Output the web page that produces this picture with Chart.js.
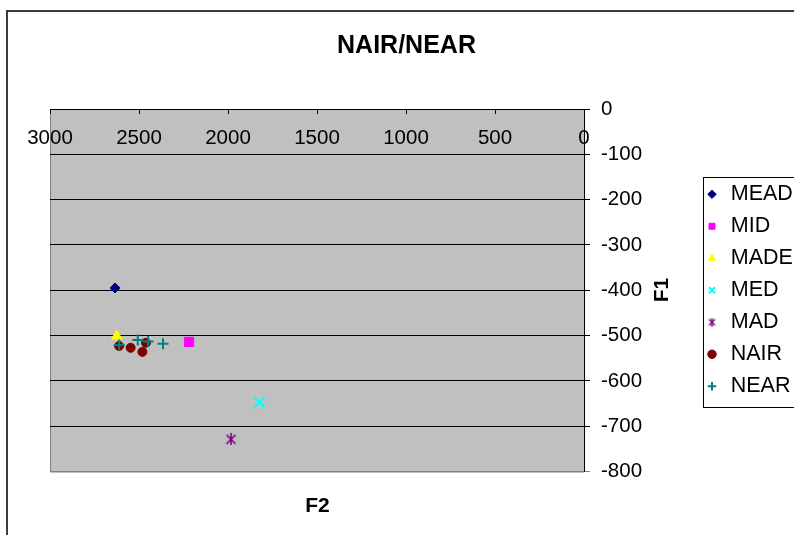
<!DOCTYPE html>
<html><head><meta charset="utf-8">
<script src="https://cdn.jsdelivr.net/npm/chart.js@4.4.1/dist/chart.umd.min.js"></script>
<style>html,body{margin:0;padding:0;background:#fff;overflow:hidden}canvas{display:block}</style>
</head><body>
<canvas id="c" width="794" height="535"></canvas>
<script>
// ---- text ----
const chartTitle = 'NAIR/NEAR';
const xTitle = 'F2';
const yTitle = 'F1';
const seriesNames = ['MEAD', 'MID', 'MADE', 'MED', 'MAD', 'NAIR', 'NEAR'];

// ---- data (F2 on x, F1 on y) ----
const meadF2 = [2635];  const meadF1 = [-395];
const midF2  = [2219];  const midF1  = [-514];
const madeF2 = [2625];  const madeF1 = [-501];
const medF2  = [1824];  const medF1  = [-647];
const madF2  = [1983];  const madF1  = [-729];
const nairF2 = [2612, 2547, 2481, 2461];  const nairF1 = [-523, -527, -536, -516];
const nearF2 = [2611, 2507, 2449, 2365];  const nearF1 = [-521, -510, -513, -518];

// ---- tick labels ----
const xTickValues = [3000, 2500, 2000, 1500, 1000, 500, 0];
const yTickValues = [0, -100, -200, -300, -400, -500, -600, -700, -800];

const seriesF2 = [meadF2, midF2, madeF2, medF2, madF2, nairF2, nearF2];
const seriesF1 = [meadF1, midF1, madeF1, medF1, madF1, nairF1, nearF1];

// ---- styles ----
const FONT = "'Liberation Sans', Arial, Helvetica, sans-serif";
function starImage(size, color, lw) {
  const c = document.createElement('canvas');
  c.width = size; c.height = size;
  const g = c.getContext('2d');
  g.strokeStyle = color; g.lineWidth = lw;
  const m = 1, e = size - 1, h = size / 2;
  g.beginPath();
  g.moveTo(m + 0.5, m + 0.5); g.lineTo(e - 0.5, e - 0.5);
  g.moveTo(e - 0.5, m + 0.5); g.lineTo(m + 0.5, e - 0.5);
  g.moveTo(h, 0); g.lineTo(h, size);
  g.stroke();
  return c;
}
const madStar = starImage(12, '#800080', 1.6);
const madStarSmall = starImage(9, '#800080', 1.4);

const styles = [
  { color: '#000080', pointStyle: 'rectRot', radius: 5, bw: 1 },
  { color: '#FF00FF', pointStyle: 'rect', radius: 6.5, bw: 1 },
  { color: '#FFFF00', pointStyle: 'triangle', radius: 6, bw: 1 },
  { color: '#00FFFF', pointStyle: 'crossRot', radius: 7.5, bw: 2 },
  { color: '#800080', pointStyle: madStar, radius: 6, bw: 1 },
  { color: '#800000', pointStyle: 'circle', radius: 4.5, bw: 1 },
  { color: '#008080', pointStyle: 'cross', radius: 5.5, bw: 2 }
];

const datasets = seriesNames.map((name, i) => ({
  label: name,
  data: seriesF2[i].map((x, k) => ({ x: x, y: seriesF1[i][k] })),
  backgroundColor: styles[i].color,
  borderColor: styles[i].color,
  pointBackgroundColor: styles[i].color,
  pointBorderColor: styles[i].color,
  pointStyle: styles[i].pointStyle,
  pointRadius: styles[i].radius,
  pointBorderWidth: styles[i].bw,
  borderWidth: styles[i].bw,
  showLine: false,
  order: -i
}));

const decor = {
  id: 'decor',
  beforeDraw(chart) {
    const { ctx, chartArea: a } = chart;
    ctx.save();
    ctx.fillStyle = '#C0C0C0';
    ctx.fillRect(a.left, a.top, a.right - a.left, a.bottom - a.top);
    ctx.strokeStyle = '#808080';
    ctx.lineWidth = 1;
    ctx.beginPath();
    ctx.moveTo(Math.round(a.left) + 0.5, a.top);
    ctx.lineTo(Math.round(a.left) + 0.5, a.bottom + 0.5);
    ctx.lineTo(a.right, a.bottom + 0.5);
    ctx.stroke();
    ctx.restore();
  },
  afterDraw(chart) {
    const { ctx } = chart;
    ctx.save();
    ctx.fillStyle = '#000';
    // chart title
    ctx.font = 'bold 25px ' + FONT;
    ctx.textAlign = 'center';
    ctx.textBaseline = 'alphabetic';
    ctx.fillText(chartTitle, 406.5, 52.5);
    // x title
    ctx.font = 'bold 21px ' + FONT;
    ctx.fillText(xTitle, 317.5, 512);
    // y title, rotated
    ctx.save();
    ctx.translate(668, 290);
    ctx.rotate(-Math.PI / 2);
    ctx.fillText(yTitle, 0, 0);
    ctx.restore();
    // legend frame
    const hb = chart.legend.legendHitBoxes;
    if (hb && hb.length) {
      const top = Math.round(hb[0].top - 6.5) + 0.5;
      const last = hb[hb.length - 1];
      const bot = Math.round(last.top + last.height + 10) + 0.5;
      const left = Math.round(hb[0].left - 1) + 0.5;
      ctx.strokeStyle = '#000';
      ctx.lineWidth = 1;
      ctx.strokeRect(left, top, 300, bot - top);
    }
    // outer chart border
    ctx.strokeStyle = '#3c3c3c';
    ctx.lineWidth = 2;
    ctx.strokeRect(7, 11, 1000, 1000);
    ctx.restore();
  }
};

new Chart(document.getElementById('c'), {
  type: 'scatter',
  data: { datasets: datasets },
  plugins: [decor],
  options: {
    responsive: false,
    devicePixelRatio: 1,
    animation: false,
    events: [],
    layout: { padding: { left: 50, top: 109, right: 0, bottom: 63.5 } },
    plugins: {
      title: { display: false },
      tooltip: { enabled: false },
      legend: {
        display: true,
        position: 'right',
        align: 'center',
        maxWidth: 100.5,
        labels: {
          color: '#000',
          font: { family: FONT, size: 21.5 },
          usePointStyle: true,
          boxWidth: 16,
          boxHeight: 6,
          padding: 10.5,
          generateLabels(chart) {
            const items = Chart.defaults.plugins.legend.labels.generateLabels(chart);
            items.forEach(it => { if (it.pointStyle === madStar) it.pointStyle = madStarSmall; });
            return items.sort((a, b) => a.datasetIndex - b.datasetIndex);
          }
        }
      }
    },
    scales: {
      x: {
        type: 'linear',
        position: 'top',
        reverse: true,
        min: 0,
        max: 3000,
        offset: false,
        afterBuildTicks: s => { s.ticks = xTickValues.map(v => ({ value: v })); },
        afterFit: s => { s.height = 0; },
        grid: { display: true, drawOnChartArea: false, drawTicks: true, tickLength: -5, color: '#000', lineWidth: 1 },
        border: { display: true, color: '#000', width: 1 },
        ticks: {
          mirror: true,
          padding: 17,
          autoSkip: false,
          maxRotation: 0,
          minRotation: 0,
          color: '#000',
          font: { family: FONT, size: 20.5 },
          callback: v => String(v)
        }
      },
      y: {
        type: 'linear',
        position: 'right',
        min: -800,
        max: 0,
        afterBuildTicks: s => { s.ticks = yTickValues.map(v => ({ value: v })); },
        afterFit: s => { s.width = 109.5; },
        grid: {
          display: true,
          drawOnChartArea: true,
          drawTicks: true,
          tickLength: 6,
          lineWidth: 1,
          color: c => (c.tick && c.tick.value === -800 ? '#808080' : '#000')
        },
        border: { display: true, color: '#000', width: 1 },
        ticks: {
          padding: 11,
          autoSkip: false,
          color: '#000',
          font: { family: FONT, size: 20.5 },
          callback: v => String(v)
        }
      }
    }
  }
});
</script>
</body></html>
